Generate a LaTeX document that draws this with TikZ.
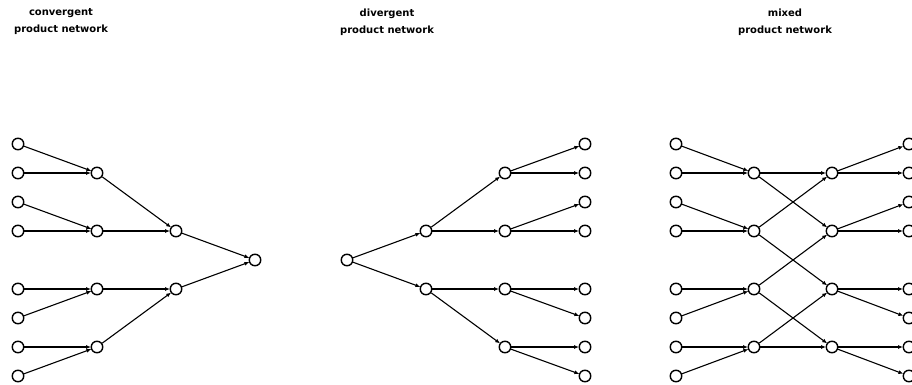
\documentclass[tikz,border=0pt]{standalone}
\usepackage{fontspec}
\setmainfont{DejaVu Sans}
\usetikzlibrary{arrows.meta,positioning}

\begin{document}
\begin{tikzpicture}[
    x=1pt, y=-1pt,
    dot/.style={draw, circle, line width=1.4pt, minimum size=11.5pt, inner sep=0pt, fill=white},
    arr/.style={-{Latex[length=5pt,width=4pt]}, line width=1.1pt, shorten >=-0.5pt},
    title/.style={align=center, font=\fontsize{10}{17}\selectfont\bfseries}
]
\useasboundingbox (0,0) rectangle (912,385);

% titles
\node[title] (t1) at (61,22) {convergent\\product network};
\node[title] (t2) at (387,22) {divergent\\product network};
\node[title] (t3) at (785,22) {mixed\\product network};

% convergent product network
\foreach \i/\y in {1/144,2/173,3/202,4/231,5/289,6/318,7/347,8/376}
    \node[dot] (c1-\i) at (18,\y) {};
\foreach \i/\y in {1/173,2/231,3/289,4/347}
    \node[dot] (c2-\i) at (97,\y) {};
\node[dot] (c3-1) at (176,231) {};
\node[dot] (c3-2) at (176,289) {};
\node[dot] (c4) at (255,260) {};

\draw[arr] (c1-1) -- (c2-1);
\draw[arr] (c1-2) -- (c2-1);
\draw[arr] (c1-3) -- (c2-2);
\draw[arr] (c1-4) -- (c2-2);
\draw[arr] (c1-5) -- (c2-3);
\draw[arr] (c1-6) -- (c2-3);
\draw[arr] (c1-7) -- (c2-4);
\draw[arr] (c1-8) -- (c2-4);
\draw[arr] (c2-1) -- (c3-1);
\draw[arr] (c2-2) -- (c3-1);
\draw[arr] (c2-3) -- (c3-2);
\draw[arr] (c2-4) -- (c3-2);
\draw[arr] (c3-1) -- (c4);
\draw[arr] (c3-2) -- (c4);

% divergent product network
\node[dot] (d1) at (347,260) {};
\node[dot] (d2-1) at (426,231) {};
\node[dot] (d2-2) at (426,289) {};
\foreach \i/\y in {1/173,2/231,3/289,4/347}
    \node[dot] (d3-\i) at (505,\y) {};
\foreach \i/\y in {1/144,2/173,3/202,4/231,5/289,6/318,7/347,8/376}
    \node[dot] (d4-\i) at (585,\y) {};

\draw[arr] (d1) -- (d2-1);
\draw[arr] (d1) -- (d2-2);
\draw[arr] (d2-1) -- (d3-1);
\draw[arr] (d2-1) -- (d3-2);
\draw[arr] (d2-2) -- (d3-3);
\draw[arr] (d2-2) -- (d3-4);
\draw[arr] (d3-1) -- (d4-1);
\draw[arr] (d3-1) -- (d4-2);
\draw[arr] (d3-2) -- (d4-3);
\draw[arr] (d3-2) -- (d4-4);
\draw[arr] (d3-3) -- (d4-5);
\draw[arr] (d3-3) -- (d4-6);
\draw[arr] (d3-4) -- (d4-7);
\draw[arr] (d3-4) -- (d4-8);

% mixed product network
\foreach \i/\y in {1/144,2/173,3/202,4/231,5/289,6/318,7/347,8/376} {
    \node[dot] (m1-\i) at (676,\y) {};
    \node[dot] (m4-\i) at (909,\y) {};
}
\foreach \i/\y in {1/173,2/231,3/289,4/347} {
    \node[dot] (m2-\i) at (754,\y) {};
    \node[dot] (m3-\i) at (832,\y) {};
}

\draw[arr] (m1-1) -- (m2-1);
\draw[arr] (m1-2) -- (m2-1);
\draw[arr] (m1-3) -- (m2-2);
\draw[arr] (m1-4) -- (m2-2);
\draw[arr] (m1-5) -- (m2-3);
\draw[arr] (m1-6) -- (m2-3);
\draw[arr] (m1-7) -- (m2-4);
\draw[arr] (m1-8) -- (m2-4);
\draw[arr] (m2-1) -- (m3-1);
\draw[arr] (m2-1) -- (m3-2);
\draw[arr] (m2-2) -- (m3-1);
\draw[arr] (m2-2) -- (m3-3);
\draw[arr] (m2-3) -- (m3-2);
\draw[arr] (m2-3) -- (m3-4);
\draw[arr] (m2-4) -- (m3-3);
\draw[arr] (m2-4) -- (m3-4);
\draw[arr] (m3-1) -- (m4-1);
\draw[arr] (m3-1) -- (m4-2);
\draw[arr] (m3-2) -- (m4-3);
\draw[arr] (m3-2) -- (m4-4);
\draw[arr] (m3-3) -- (m4-5);
\draw[arr] (m3-3) -- (m4-6);
\draw[arr] (m3-4) -- (m4-7);
\draw[arr] (m3-4) -- (m4-8);
\end{tikzpicture}
\end{document}
